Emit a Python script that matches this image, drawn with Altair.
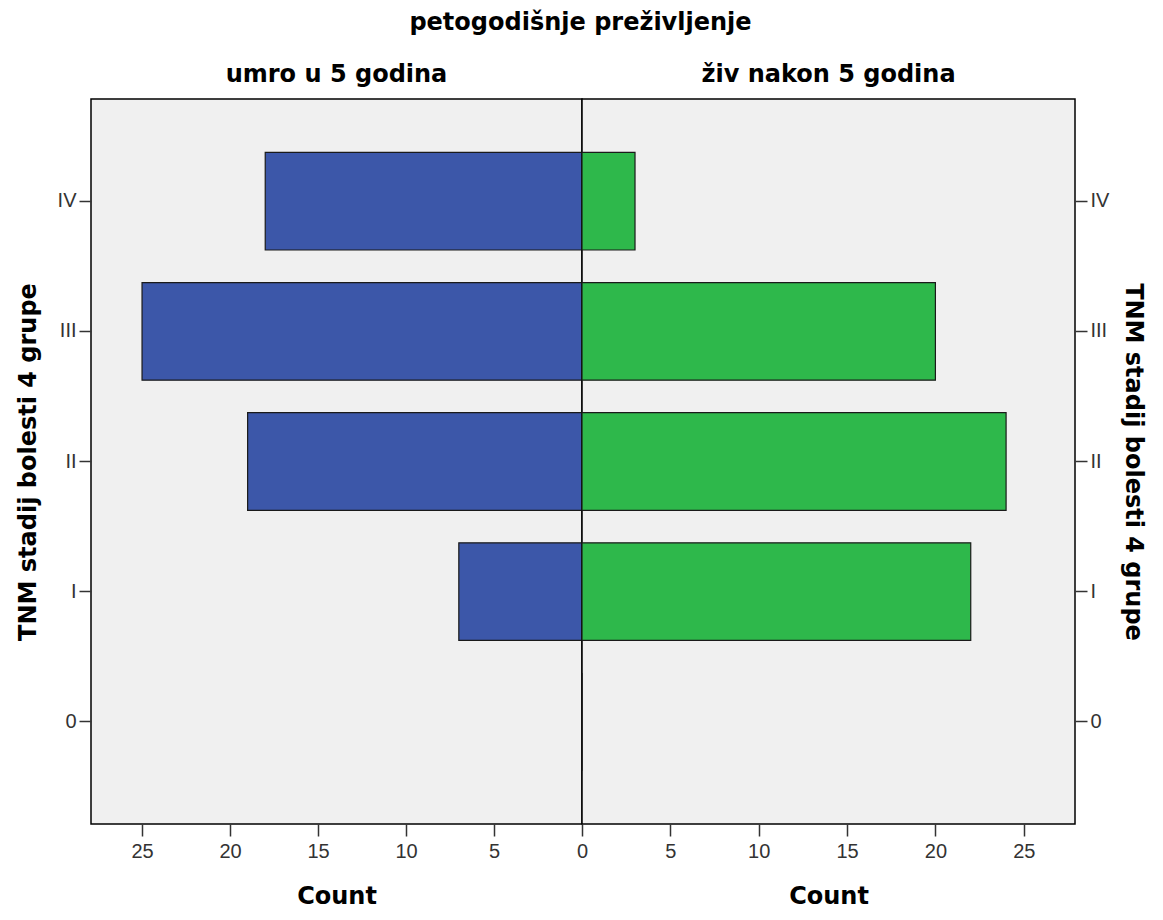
import altair as alt
import pandas as pd

stages = ["IV", "III", "II", "I", "0"]
died = [18, 25, 19, 7, 0]
alive = [3, 20, 24, 22, 0]
left_ticks = [5, 10, 15, 20, 25]
right_ticks = [0, 5, 10, 15, 20, 25]

df_left = pd.DataFrame({"stage": stages, "count": died})
df_right = pd.DataFrame({"stage": stages, "count": alive})

TITLE_FONT = "DejaVu Sans"
LABEL_FONT = "Liberation Sans"
XMAX = 27.9
H = 725

yscale = alt.Scale(domain=stages, paddingInner=0.25, paddingOuter=0.41)


def panel_title(text):
    return alt.TitleParams(text, font=TITLE_FONT, fontSize=24, fontWeight="bold",
                           color="black", anchor="middle", frame="group", offset=12)


left = alt.Chart(df_left, title=panel_title("umro u 5 godina")).mark_bar(
    color="#3c57a9", stroke="#1a1a1a", strokeWidth=1.2
).encode(
    x=alt.X("count:Q",
            scale=alt.Scale(domain=[0, XMAX], reverse=True, nice=False, zero=True),
            axis=alt.Axis(values=left_ticks, title="Count", labelFlush=False)),
    y=alt.Y("stage:N", sort=stages, scale=yscale,
            axis=alt.Axis(orient="left", title="TNM stadij bolesti 4 grupe", titlePadding=17)),
).properties(width=491, height=H)

right = alt.Chart(df_right, title=panel_title("živ nakon 5 godina")).mark_bar(
    color="#2eb84b", stroke="#1a1a1a", strokeWidth=1.2
).encode(
    x=alt.X("count:Q",
            scale=alt.Scale(domain=[0, XMAX], nice=False, zero=True),
            axis=alt.Axis(values=right_ticks, title="Count", labelFlush=False)),
    y=alt.Y("stage:N", sort=stages, scale=yscale,
            axis=alt.Axis(orient="right", title="TNM stadij bolesti 4 grupe", titlePadding=12)),
).properties(width=493, height=H)

chart = alt.hconcat(left, right, spacing=0, bounds="flush").properties(
    title=alt.TitleParams("petogodišnje preživljenje", font=TITLE_FONT, fontSize=24,
                          fontWeight="bold", color="black", anchor="middle", offset=27),
    padding={"left": 7, "top": 3, "right": 5, "bottom": 0},
).configure_view(
    stroke="black", strokeWidth=1.5, fill="#f0f0f0"
).configure_axis(
    labelFont=LABEL_FONT, labelFontSize=20, labelColor="#333333", labelPadding=3,
    titleFont=TITLE_FONT, titleFontSize=24, titleFontWeight="bold", titleColor="black",
    tickColor="#333333", tickWidth=1.5, tickSize=12,
    domain=False, grid=False,
).configure_axisX(
    labelPadding=5, titlePadding=23
)

chart.save("out.html", embed_options={"renderer": "svg", "actions": False})
